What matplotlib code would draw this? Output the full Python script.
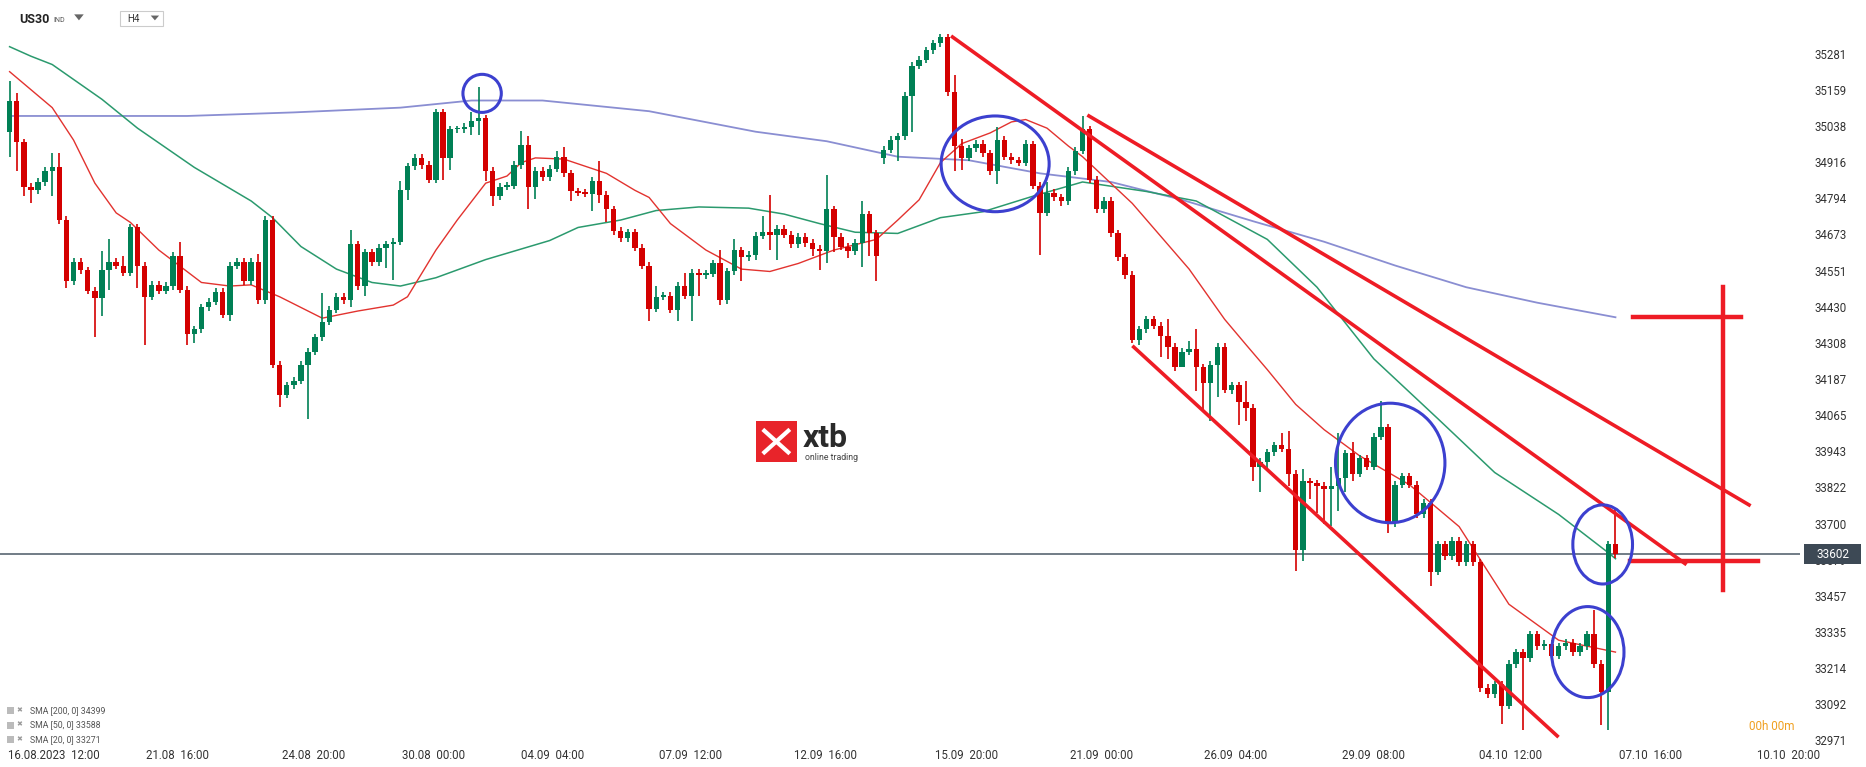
import matplotlib
matplotlib.use("Agg")
import matplotlib.pyplot as plt
from matplotlib.patches import Ellipse, Rectangle, Polygon
import numpy as np

plt.rcParams['font.family'] = ['Roboto', 'DejaVu Sans']

# ---------------- data ----------------
first_open = 35023
closes = [35128,34987,34838,34826,34854,34891,34903,34726,34520,34585,
          34557,34488,34464,34557,34585,34573,34549,34701,34573,34468,
          34508,34488,34504,34605,34492,34343,34359,34432,34452,34484,
          34408,34573,34585,34520,34585,34456,34726,34239,34138,34170,
          34186,34239,34283,34331,34384,34424,34468,34456,34645,34504,
          34617,34585,34633,34645,34653,34826,34907,34935,34911,34862,
          35088,34935,35031,35031,35039,35060,35068,34891,34806,34838,
          34842,34911,34979,34838,34891,34870,34899,34939,34883,34822,
          34818,34814,34858,34810,34762,34689,34665,34685,34633,34573,
          34428,34468,34472,34424,34504,34472,34549,34541,34545,34581,
          34456,34553,34625,34601,34609,34673,34685,34677,34697,34677,
          34645,34669,34649,34629,34621,34762,34669,34637,34621,34649,
          34746,34681,34605,34963,34995,35007,35144,35245,35265,35297,
          35321,35341,35156,34975,34935,34967,34983,34951,34891,34995,
          34939,34927,34919,34983,34842,34750,34818,34802,34790,34891,
          34959,35031,34862,34762,34790,34681,34601,34541,34323,34359,
          34392,34371,34335,34299,34231,34283,34291,34231,34178,34239,
          34299,34154,34170,34114,34094,33897,33913,33945,33969,33957,
          33873,33615,33848,33840,33832,33820,33832,33860,33941,33873,
          33925,33897,33997,34029,33707,33836,33864,33836,33736,33776,
          33543,33635,33595,33647,33575,33635,33575,33152,33132,33164,
          33092,33233,33273,33253,33333,33293,33301,33261,33293,33305,
          33273,33293,33333,33233,33140,33635,33602]
gap_opens = {123: 34935}
highs_x = {0:35192,1:35152,6:34951,7:34951,13:34621,14:34661,16:34605,24:34653,32:34597,35:34613,
           44:34480,48:34693,55:34858,65:35088,66:35172,72:35027,73:35007,77:34959,78:34971,83:34923,
           91:34504,95:34549,100:34625,102:34661,106:34738,107:34810,115:34879,120:34790,131:35353,
           133:35213,134:34999,139:35039,140:35007,144:34991,146:34854,150:34971,151:35076,163:34392,
           166:34319,167:34359,174:34186,179:34009,180:34017,182:33889,186:33897,187:34009,189:33981,
           193:34118,223:33414,226:33756}
lows_x = {0:34939,1:34891,2:34806,3:34782,6:34806,8:34496,12:34331,13:34404,14:34492,18:34496,
          19:34307,25:34307,26:34311,31:34388,38:34098,42:34058,48:34432,49:34492,50:34472,53:34565,
          54:34524,56:34794,59:34850,61:34862,62:34895,65:35011,66:35011,67:34858,68:34774,73:34762,
          74:34798,79:34790,82:34758,83:34782,84:34718,90:34388,94:34388,96:34388,97:34472,100:34440,
          103:34520,105:34593,107:34625,108:34593,113:34605,114:34557,115:34581,116:34617,118:34597,
          120:34569,121:34605,122:34520,123:34915,125:34923,127:35023,133:34891,134:34895,139:34846,
          145:34609,148:34774,159:34307,162:34267,163:34259,165:34235,167:34150,168:34090,169:34050,
          170:34130,171:34146,173:34038,174:34050,175:33848,176:33812,177:33889,180:33832,181:33547,
          182:33579,183:33788,184:33740,185:33704,186:33696,187:33748,188:33812,189:33848,194:33675,
          200:33494,210:33031,213:33011,224:33027,225:33011}

sma200_idx = [0,25,40,55,65,75,90,105,115,125,135,145,155,165,175,185,195,205,215,226]
sma200_val = [35076,35076,35088,35104,35128,35128,35092,35023,34991,34939,34927,34883,34854,34794,
              34722,34653,34573,34500,34448,34399]
sma50_idx = [0,3,6,13,18,26,34,37,41,46,51,55,60,67,76,80,86,91,97,104,109,114,119,125,131,137,
             144,151,160,167,177,184,192,201,209,218,225,226]
sma50_val = [35309,35277,35249,35132,35035,34903,34790,34734,34637,34561,34516,34504,34532,34593,
             34657,34701,34726,34758,34770,34766,34746,34714,34685,34681,34734,34754,34806,34854,
             34822,34790,34661,34500,34259,34058,33877,33736,33607,33587]
sma20_idx = [0,6,9,12,15,17,21,27,31,34,38,44,49,54,56,60,63,67,70,72,74,78,80,84,88,90,93,98,
             103,107,111,116,122,125,128,131,134,138,141,143,146,149,151,158,166,171,174,177,181,
             185,190,197,204,211,218,226]
sma20_val = [35225,35104,34995,34850,34750,34718,34625,34516,34504,34508,34468,34396,34420,34440,
             34468,34625,34726,34850,34874,34919,34935,34931,34915,34883,34826,34802,34714,34625,
             34561,34553,34580,34625,34661,34726,34794,34919,34983,35019,35056,35064,35035,34975,
             34939,34782,34561,34392,34307,34223,34106,34021,33933,33836,33695,33434,33313,33273]

price_ticks = [35281,35159,35038,34916,34794,34673,34551,34430,34308,34187,34065,33943,33822,
               33700,33579,33457,33335,33214,33092,32971]
date_pos = [6.2,23.6,42.8,59.6,76.4,95.8,114.8,134.7,153.7,172.6,191.9,211.3,231.0,250.3]
date_labels = ["16.08.2023  12:00","21.08  16:00","24.08  20:00","30.08  00:00","04.09  04:00",
               "07.09  12:00","12.09  16:00","15.09  20:00","21.09  00:00","26.09  04:00",
               "29.09  08:00","04.10  12:00","07.10  16:00","10.10  20:00"]
last_price = 33602
legend_rows = ["SMA [200, 0] 34399", "SMA [50, 0] 33588", "SMA [20, 0] 33271"]

# ---------------- figure ----------------
W, H = 1866, 767
fig = plt.figure(figsize=(W/100, H/100), dpi=100)
DW, DH = 1560.0, 641.0   # reference display geometry
def fx(x): return x/DW
def fy(y): return 1 - y/DH

ax = fig.add_axes([0, fy(622), fx(1505), 1 - fy(622)])
for s in ax.spines.values():
    s.set_visible(False)
ax.set_xticks([]); ax.set_yticks([])
ax.set_xlim(-1.35, 252.0)
ax.set_ylim(32963, 35466)

GREEN = '#008055'; RED = '#d40000'
n = len(closes)
opens = [first_open] + closes[:-1]
for k, v in gap_opens.items():
    opens[k] = v
for i in range(n):
    o, c = opens[i], closes[i]
    col = GREEN if c >= o else RED
    hi = highs_x.get(i, max(o, c) + 12)
    lo = lows_x.get(i, min(o, c) - 12)
    ax.vlines(i, lo, hi, color=col, lw=1.2, zorder=3)
    b = abs(c - o)
    if b < 6:
        b = 6
    ax.add_patch(Rectangle((i - 0.38, min(o, c)), 0.76, b, facecolor=col, edgecolor='none', zorder=4))

ax.plot(sma200_idx, sma200_val, color='#8a8ed2', lw=1.3, zorder=2)
ax.plot(sma50_idx, sma50_val, color='#2b9a6e', lw=1.1, zorder=2)
ax.plot(sma20_idx, sma20_val, color='#e2332f', lw=1.0, zorder=2)

ax.axhline(last_price, color='#4a5866', lw=1.1, zorder=1)

TL = '#ee1c25'
ax.plot([132.5, 236.0], [35345, 33567], color=TL, lw=2.6, zorder=5, solid_capstyle='butt')
ax.plot([151.9, 244.8], [35076, 33768], color=TL, lw=2.6, zorder=5)
ax.plot([158.2, 217.8], [34299, 32991], color=TL, lw=2.6, zorder=5)
ax.plot([228.0, 246.1], [33579, 33579], color=TL, lw=3.2, zorder=5)
ax.plot([228.5, 243.6], [34400, 34400], color=TL, lw=3.2, zorder=5)
ax.plot([241.1, 241.1], [34500, 33482], color=TL, lw=3.2, zorder=5)

BL = '#3c40cf'
for (cx, cy, w, h) in [(66.5, 35152, 5.4, 128), (138.7, 34915, 15.2, 322),
                       (194.3, 33909, 15.4, 402), (224.2, 33635, 8.4, 266),
                       (222.1, 33273, 10.2, 306)]:
    ax.add_patch(Ellipse((cx, cy), w, h, fill=False, edgecolor=BL, lw=2.2, zorder=6))

# right price axis
for p in price_ticks:
    y = (p - 32963) / (35466 - 32963)
    yf = fy(622) + y * (1 - fy(622))
    fig.text(fx(1517), yf, f"{p}", fontsize=8.3, color='#333333', va='center', ha='left')
yl = fy(622) + (last_price - 32963) / (35466 - 32963) * (1 - fy(622))
fig.patches.append(Rectangle((fx(1508), yl - 8.5/DH), fx(48), 17/DH, transform=fig.transFigure,
                             facecolor='#3d4955', edgecolor='none', zorder=10))
fig.text(fx(1532), yl, f"{last_price}", fontsize=8.5, color='white', va='center', ha='center', zorder=11)

# dates
for pos, lab in zip(date_pos, date_labels):
    xf = (pos + 1.35) / (252.0 + 1.35) * fx(1505)
    fig.text(xf, fy(631), lab, fontsize=8.3, color='#333333', ha='center', va='center')

# header
fig.text(fx(16), fy(16), "US30", fontsize=9, fontweight='bold', color='#222222', va='center')
fig.text(fx(45), fy(17), "IND", fontsize=5, color='#555555', va='center')
fig.patches.append(Polygon([[fx(62), fy(12)], [fx(70), fy(12)], [fx(66), fy(17)]], closed=True,
                           transform=fig.transFigure, facecolor='#666666', edgecolor='none'))
fig.patches.append(Rectangle((fx(100), fy(22)), fx(36), 13/DH, transform=fig.transFigure,
                             facecolor='white', edgecolor='#cccccc', lw=0.8))
fig.text(fx(106), fy(15.5), "H4", fontsize=7, color='#333333', va='center')
fig.patches.append(Polygon([[fx(126), fy(13)], [fx(133), fy(13)], [fx(129.5), fy(17)]], closed=True,
                           transform=fig.transFigure, facecolor='#666666', edgecolor='none'))

# logo
fig.patches.append(Rectangle((fx(632), fy(386)), fx(34), 34/DH, transform=fig.transFigure,
                             facecolor='#e8242a', edgecolor='none', zorder=8))
fig.add_artist(plt.Line2D([fx(639), fx(659)], [fy(360), fy(378)], transform=fig.transFigure,
                          color='white', lw=3, zorder=9))
fig.add_artist(plt.Line2D([fx(639), fx(659)], [fy(378), fy(360)], transform=fig.transFigure,
                          color='white', lw=3, zorder=9))
fig.text(fx(671), fy(366), "xtb", fontsize=23, fontweight='bold', color='#2a2a2a', va='center')
fig.text(fx(673), fy(382), "online trading", fontsize=6.3, color='#444444', va='center')

# legend
for k, row in enumerate(legend_rows):
    y = 594 + 12 * k
    fig.patches.append(Rectangle((fx(6), fy(y + 3)), fx(6), 6/DH, transform=fig.transFigure,
                                 facecolor='#bbbbbb', edgecolor='none'))
    fig.text(fx(14), fy(y), "✖", fontsize=5, color='#999999', va='center')
    fig.text(fx(25), fy(y), row, fontsize=6.3, color='#555555', va='center')

fig.text(fx(1500), fy(607), "00h 00m", fontsize=8.5, color='#f0a020', ha='right', va='center')

fig.savefig("out.png", dpi=100, facecolor='white')
